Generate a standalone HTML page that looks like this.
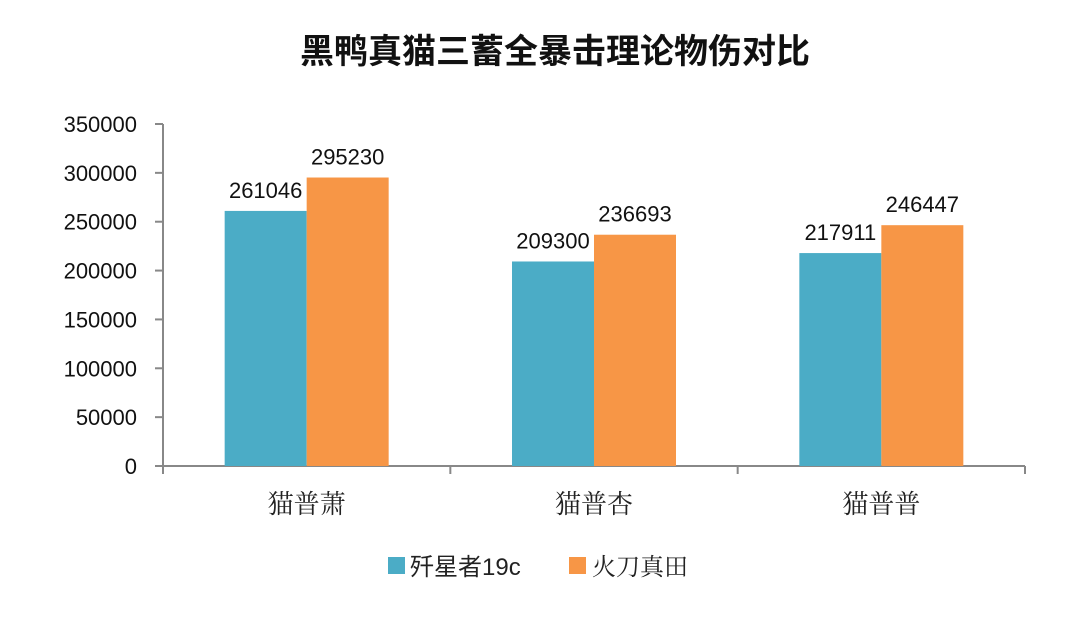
<!DOCTYPE html>
<html><head><meta charset="utf-8"><style>
body{margin:0;background:#fff;}
svg text{font-family:"Liberation Sans","Noto Sans CJK SC",sans-serif;}
</style></head><body>
<svg id="chart" width="1080" height="618" xmlns="http://www.w3.org/2000/svg">
<rect width="1080" height="618" fill="#fff"/>
<text x="555" y="63" text-anchor="middle" font-size="34" font-weight="bold" fill="#111" style="font-family:'Noto Sans CJK SC',sans-serif">黑鸭真猫三蓄全暴击理论物伤对比</text>
<g id="plot"></g>
<g>
<rect x="388" y="557" width="17" height="17" fill="#4bacc6"/>
<text x="410" y="575" font-size="24" fill="#222">歼星者19c</text>
<rect x="569" y="557" width="17" height="17" fill="#f79646"/>
<text x="592" y="575" font-size="24" fill="#222" style="font-family:'Noto Serif CJK SC',serif">火刀真田</text>
</g>
</svg>
<script>
const categories=["猫普萧","猫普杏","猫普普"];
const seriesA=[261046,209300,217911];
const seriesB=[295230,236693,246447];
const yTicks=[0,50000,100000,150000,200000,250000,300000,350000];
const NS="http://www.w3.org/2000/svg";
const g=document.getElementById('plot');
const x0=163,x1=1025,y0=466,y1=124,yMax=350000;
const y=v=>y0-(v/yMax)*(y0-y1);
const bw=(x1-x0)/categories.length;
function mk(t,a,txt){const e=document.createElementNS(NS,t);for(const k in a)e.setAttribute(k,a[k]);if(txt!=null)e.textContent=txt;g.appendChild(e);return e;}
yTicks.forEach(v=>{
  const l=mk('line',{x1:155,x2:x0,y1:y(v),y2:y(v),stroke:'#888','stroke-width':2});
  
  
  const t=mk('text',{x:137,y:y(v)+8,'text-anchor':'end','font-size':22,fill:'#111'},String(v));
  
  
});
const ax=mk('line',{x1:x0,x2:x0,y1:y1,y2:y0,stroke:'#888','stroke-width':2});


const xa=mk('line',{x1:x0,x2:x1,y1:y0,y2:y0,stroke:'#888','stroke-width':2});


for(let i=0;i<=categories.length;i++){
  const t=mk('line',{x1:x0+i*bw,x2:x0+i*bw,y1:y0,y2:y0+8,stroke:'#888','stroke-width':2});
  
  
}
const barW=82;
categories.forEach((c,i)=>{
  const cx=x0+bw*(i+0.5);
  [[seriesA[i],cx-barW,'#4bacc6','bar-a'],[seriesB[i],cx,'#f79646','bar-b']].forEach(([v,bx,col,nm])=>{
    const r=mk('rect',{x:bx,y:y(v),width:barW,height:y0-y(v),fill:col});
    
    
    const t=mk('text',{x:bx+barW/2,y:y(v)-13,'text-anchor':'middle','font-size':22,fill:'#111'},String(v));
    
    
  });
  const t=mk('text',{x:cx,y:513,'text-anchor':'middle','font-size':26,fill:'#222',style:"font-family:'Noto Serif CJK SC',serif"},c);
  
  
});
</script>
</body></html>
